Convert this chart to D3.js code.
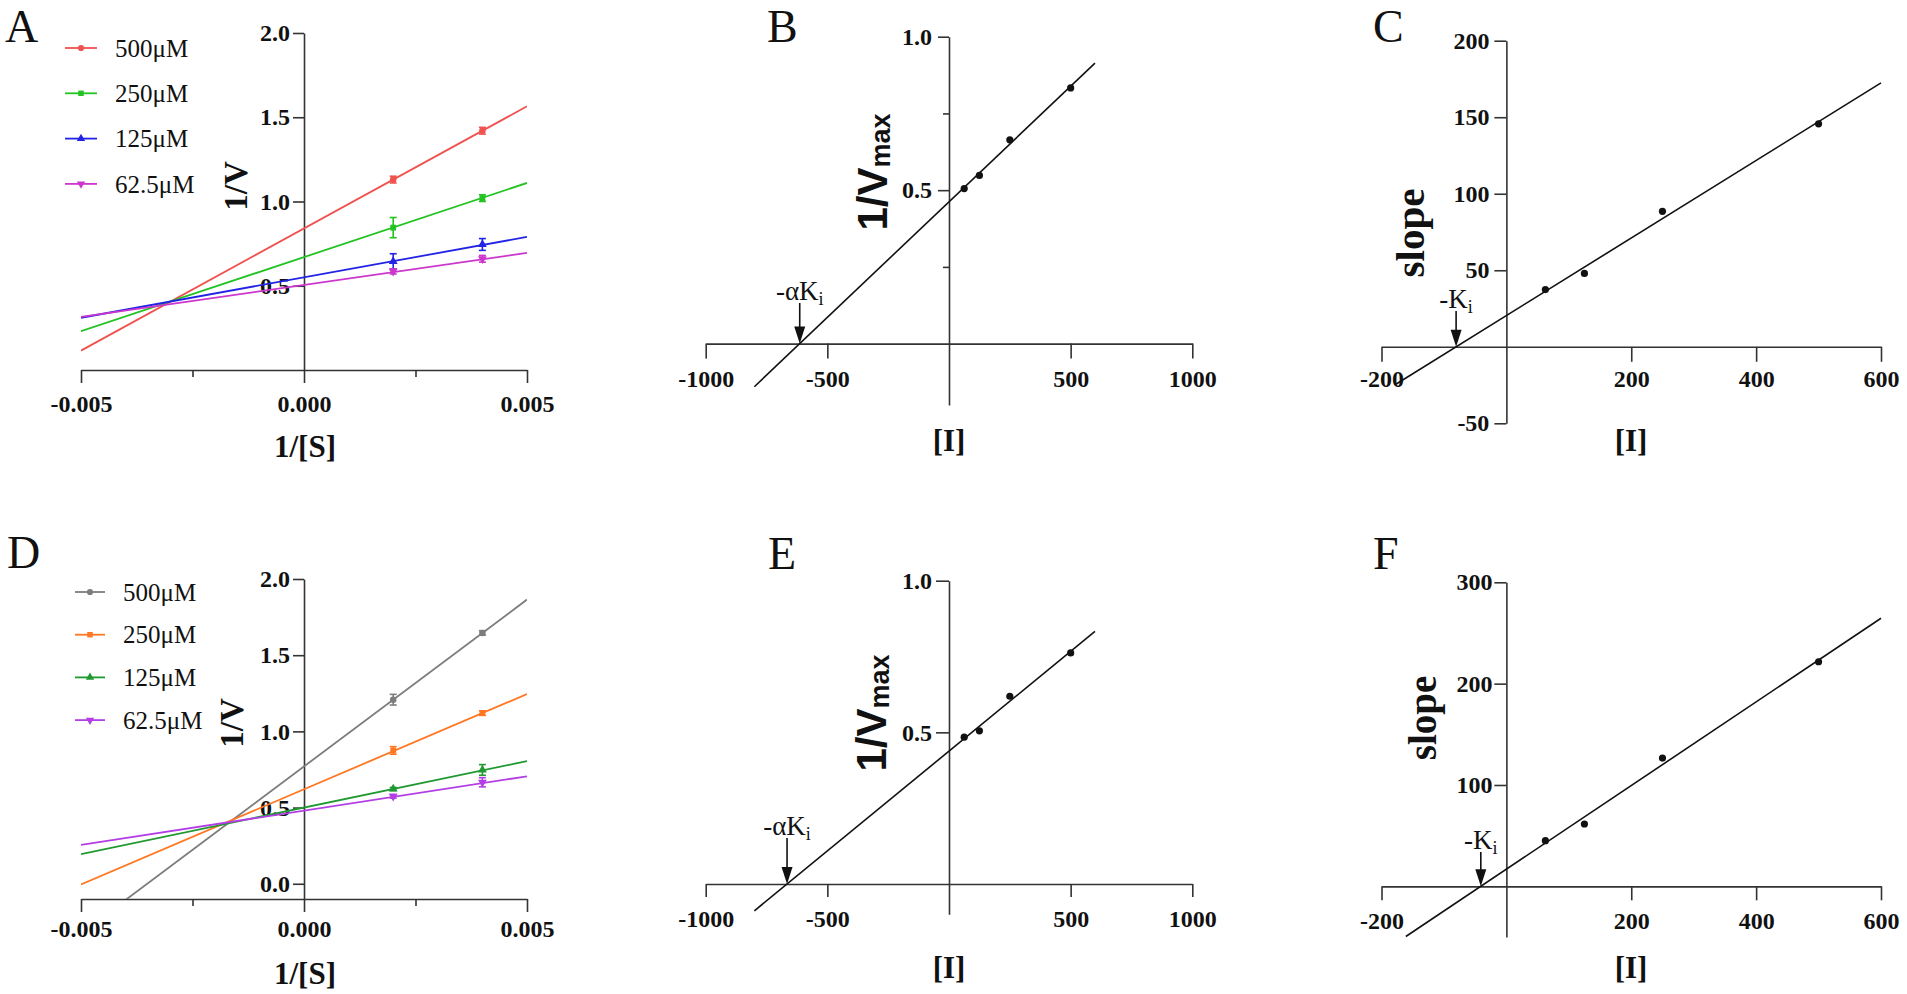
<!DOCTYPE html>
<html>
<head>
<meta charset="utf-8">
<title>Inhibition kinetics</title>
<script src="https://cdn.jsdelivr.net/npm/d3@7/dist/d3.min.js"></script>
<style>
  body { margin: 0; background: #fff; }
  svg text { font-family: "Liberation Serif", "Times New Roman", serif; fill: #111; }
  .axis path, .axis line { stroke: #333; stroke-width: 1.6; }
  .axis text { font-size: 24px; font-weight: bold; }
</style>
</head>
<body>
<svg id="fig" width="1907" height="994"></svg>
<script>
// Lineweaver-Burk plots (A, D) with their replots (B, C, E, F)

var concLabels = ["500μM", "250μM", "125μM", "62.5μM"];
var invS = [0.002, 0.004];

// panel A: 1/V at 1/[S] = 0.002, 0.004 (mean, error) and the fitted lines
var meanA = [[1.13, 1.42], [0.845, 1.02], [0.645, 0.745], [0.585, 0.66]];
var errA = [[0.02, 0.02], [0.06, 0.02], [0.045, 0.035], [0.015, 0.02]];
var slopeA = [145, 88, 48, 38];
var interceptA = [0.84, 0.67, 0.55, 0.505];
var colorsA = ["#f0524f", "#22c322", "#2323e6", "#cc36cc"];

// panel D
var meanD = [[1.208, 1.646], [0.875, 1.12], [0.622, 0.747], [0.574, 0.666]];
var errD = [[0.035, 0.015], [0.025, 0.015], [0.01, 0.035], [0.012, 0.03]];
var slopeD = [219, 125, 61, 45];
var interceptD = [0.77, 0.62, 0.50, 0.48];
var colorsD = ["#7d7d7d", "#ff7722", "#1f9930", "#b43ee6"];

// replots against inhibitor concentration
var inhibitor = [62.5, 125, 250, 500];
var vmaxB = [0.505, 0.548, 0.664, 0.833];
var slopeC = [37.4, 47.9, 88.5, 145.7];
var vmaxE = [0.484, 0.505, 0.619, 0.762];
var slopeF = [45, 61.5, 126.6, 221.6];
// fitted lines of B, C, E, F
var fitSlope = [0.000753, 0.2534, 0.000658, 0.4127];
var fitIntercept = [0.462, 20.4, 0.438, 16.9];
var fitStart = [-800, -177, -800, -161];
var fitEnd = [600, 600, 600, 600];

var svg = d3.select("#fig");
var shapes = [d3.symbolCircle, d3.symbolSquare, d3.symbolTriangle, d3.symbolTriangle];
var shapeRot = [0, 0, 0, 180];

function fixed(n) {
    return function (d) { return d.toFixed(n); };
}

function letter(txt, x, y) {
    svg.append("text").attr("x", x).attr("y", y)
            .style("font-size", "46px").text(txt);
}

function marker(g, i, x, y, color, size) {
    g.append("path")
            .attr("d", d3.symbol().type(shapes[i]).size(size)())
            .attr("transform", "translate(" + x + "," + y + ") rotate(" + shapeRot[i] + ")")
            .attr("fill", color);
}

function lbPanel(p) {
    var x = d3.scaleLinear().domain([-0.005, 0.005]).range([p.left, p.right]);
    var y = d3.scaleLinear().domain(p.yDomain).range([p.bottom, p.top]);
    var g = svg.append("g");

    var xAxis = g.append("g").attr("class", "axis")
            .attr("transform", "translate(0," + p.bottom + ")")
            .call(d3.axisBottom(x).tickValues([-0.005, 0, 0.005]).tickSize(13)
                    .tickSizeOuter(0).tickFormat(fixed(3)));
    xAxis.selectAll(".tick text").attr("y", p.xLabelOff).attr("dy", null);
    g.append("g").attr("class", "axis")
            .attr("transform", "translate(0," + p.bottom + ")")
            .call(d3.axisBottom(x).tickValues([-0.0025, 0.0025]).tickSize(7)
                    .tickSizeOuter(0).tickFormat(""))
            .select(".domain").remove();
    g.append("g").attr("class", "axis")
            .attr("transform", "translate(" + x(0) + ",0)")
            .call(d3.axisLeft(y).tickValues(p.yTicks).tickSize(11).tickPadding(3)
                    .tickSizeOuter(0).tickFormat(fixed(1)));

    g.append("text").attr("x", (p.left + p.right) / 2 + 1).attr("y", p.xTitleY)
            .attr("text-anchor", "middle")
            .style("font-size", "31px").style("font-weight", "bold").text("1/[S]");
    g.append("text").attr("transform", "translate(" + p.yTitleX + "," + p.yTitleY + ") rotate(-90)")
            .attr("text-anchor", "middle")
            .style("font-size", "33px").style("font-weight", "bold").text("1/V");

    var clipId = "clip" + p.id;
    svg.append("clipPath").attr("id", clipId).append("rect")
            .attr("x", p.left).attr("y", p.top - 40)
            .attr("width", p.right - p.left).attr("height", p.bottom - p.top + 40);

    var lines = g.append("g").attr("clip-path", "url(#" + clipId + ")");
    p.slopes.forEach(function (m, i) {
        var b = p.intercepts[i];
        lines.append("line")
                .attr("x1", x(-0.005)).attr("y1", y(b + m * -0.005))
                .attr("x2", x(0.005)).attr("y2", y(b + m * 0.005))
                .attr("stroke", p.colors[i]).attr("stroke-width", 1.8);
    });

    p.means.forEach(function (row, i) {
        row.forEach(function (v, j) {
            var cx = x(invS[j]);
            var e = p.errs[i][j];
            g.append("line").attr("x1", cx).attr("x2", cx)
                    .attr("y1", y(v - e)).attr("y2", y(v + e))
                    .attr("stroke", p.colors[i]).attr("stroke-width", 1.6);
            [v - e, v + e].forEach(function (w) {
                g.append("line").attr("x1", cx - 3.5).attr("x2", cx + 3.5)
                        .attr("y1", y(w)).attr("y2", y(w))
                        .attr("stroke", p.colors[i]).attr("stroke-width", 1.6);
            });
            marker(g, i, cx, y(v), p.colors[i], 34);
        });
    });

    // legend
    concLabels.forEach(function (lab, i) {
        var ly = p.legY + i * p.legStep;
        g.append("line").attr("x1", p.legX1).attr("x2", p.legX2)
                .attr("y1", ly).attr("y2", ly)
                .attr("stroke", p.colors[i]).attr("stroke-width", 1.8);
        marker(g, i, (p.legX1 + p.legX2) / 2, ly, p.colors[i], 30);
        g.append("text").attr("x", p.legText).attr("y", ly).attr("dy", "0.35em")
                .style("font-size", "25px").text(lab);
    });

    letter(p.id, p.letterX, p.letterY);
}

function replot(p) {
    var x = d3.scaleLinear().domain(p.xDomain).range([p.left, p.right]);
    var y = d3.scaleLinear().domain(p.yDomain).range([p.bottom, p.top]);
    var g = svg.append("g");
    var k = p.fit;

    var xAxis = g.append("g").attr("class", "axis")
            .attr("transform", "translate(0," + y(0) + ")")
            .call(d3.axisBottom(x).tickValues(p.xTicks).tickSize(p.xTickSize)
                    .tickSizeOuter(0).tickFormat(function (d) { return String(d); }));
    xAxis.selectAll(".tick text").attr("y", p.xLabelOff).attr("dy", null);

    g.append("g").attr("class", "axis")
            .attr("transform", "translate(" + x(0) + ",0)")
            .call(d3.axisLeft(y).tickValues(p.yTicks).tickSize(p.yTickSize).tickPadding(p.yPad)
                    .tickSizeOuter(0).tickFormat(fixed(p.yDigits)));
    if (p.yMinor) {
        g.append("g").attr("class", "axis")
                .attr("transform", "translate(" + x(0) + ",0)")
                .call(d3.axisLeft(y).tickValues(p.yMinor).tickSize(6).tickFormat(""))
                .select(".domain").remove();
    }

    // fitted line and points
    var m = fitSlope[k], b = fitIntercept[k];
    g.append("line")
            .attr("x1", x(fitStart[k])).attr("y1", y(b + m * fitStart[k]))
            .attr("x2", x(fitEnd[k])).attr("y2", y(b + m * fitEnd[k]))
            .attr("stroke", "#111").attr("stroke-width", 1.6);
    g.selectAll("circle.pt").data(p.values).enter().append("circle")
            .attr("cx", function (d, i) { return x(inhibitor[i]); })
            .attr("cy", function (d) { return y(d); })
            .attr("r", 3.6).attr("fill", "#111");

    // intercept arrow
    var ax = x(-b / m), y0 = y(0);
    g.append("line").attr("x1", ax).attr("x2", ax)
            .attr("y1", p.arrowTop).attr("y2", y0 - 14)
            .attr("stroke", "#111").attr("stroke-width", 1.6);
    g.append("path")
            .attr("d", "M" + (ax - 5.5) + "," + (y0 - 17) + "L" + (ax + 5.5) + "," + (y0 - 17) + "L" + ax + "," + y0 + "Z")
            .attr("fill", "#111");
    var ann = g.append("text").attr("x", ax).attr("y", p.arrowTop - 3)
            .attr("text-anchor", "middle").style("font-size", "27px").text(p.ann);
    ann.append("tspan").attr("dy", 5).style("font-size", "18px").text("i");

    // titles
    g.append("text").attr("x", p.xTitleX).attr("y", p.xTitleY)
            .attr("text-anchor", "middle")
            .style("font-size", "31px").style("font-weight", "bold").text("[I]");
    var yt = g.append("text")
            .attr("transform", "translate(" + p.yTitleX + "," + p.yTitleY + ") rotate(-90)")
            .attr("text-anchor", "middle").style("font-weight", "bold");
    if (p.yTitle === "vmax") {
        yt.style("font-family", "'Liberation Sans', Arial, sans-serif").style("font-size", "42px");
        yt.append("tspan").text("1/V");
        yt.append("tspan").attr("dy", 3).style("font-size", "27px").text("max");
    } else {
        yt.style("font-size", p.yTitleSize + "px").text("slope");
    }

    letter(p.id, p.letterX, p.letterY);
}

lbPanel({
    id: "A", left: 81, right: 527, top: 33, bottom: 370, yDomain: [0, 2],
    yTicks: [0.5, 1, 1.5, 2], xLabelOff: 42, xTitleY: 457, yTitleX: 247, yTitleY: 186,
    means: meanA, errs: errA, slopes: slopeA, intercepts: interceptA, colors: colorsA,
    legX1: 65, legX2: 97, legText: 115, legY: 48, legStep: 45.3, letterX: 5, letterY: 42
});

lbPanel({
    id: "D", left: 81, right: 527, top: 579, bottom: 899, yDomain: [-0.1, 2],
    yTicks: [0, 0.5, 1, 1.5, 2], xLabelOff: 38, xTitleY: 984, yTitleX: 243, yTitleY: 723,
    means: meanD, errs: errD, slopes: slopeD, intercepts: interceptD, colors: colorsD,
    legX1: 75, legX2: 105, legText: 123, legY: 592, legStep: 42.7, letterX: 7, letterY: 568
});

replot({
    id: "B", fit: 0, values: vmaxB, left: 705.7, right: 1192.3, top: 36.7, bottom: 405,
    xDomain: [-1000, 1000], yDomain: [-0.2, 1.0], xTicks: [-1000, -500, 500, 1000],
    xTickSize: 15, xLabelOff: 43, yTicks: [0.5, 1.0], yMinor: [0.25, 0.75],
    yTickSize: 11, yPad: 6, yDigits: 1, arrowTop: 303, ann: "-αK",
    xTitleX: 949, xTitleY: 451, yTitle: "vmax", yTitleX: 887, yTitleY: 172,
    letterX: 767, letterY: 42
});

replot({
    id: "C", fit: 1, values: slopeC, left: 1381.5, right: 1881, top: 40.7, bottom: 423.3,
    xDomain: [-200, 600], yDomain: [-50, 200], xTicks: [-200, 200, 400, 600],
    xTickSize: 15, xLabelOff: 40, yTicks: [-50, 50, 100, 150, 200],
    yTickSize: 12, yPad: 5, yDigits: 0, arrowTop: 311, ann: "-K",
    xTitleX: 1631, xTitleY: 451, yTitle: "slope", yTitleSize: 41, yTitleX: 1424, yTitleY: 233,
    letterX: 1373, letterY: 42
});

replot({
    id: "E", fit: 2, values: vmaxE, left: 705.7, right: 1192.3, top: 580.7, bottom: 914.3,
    xDomain: [-1000, 1000], yDomain: [-0.1, 1.0], xTicks: [-1000, -500, 500, 1000],
    xTickSize: 13, xLabelOff: 43, yTicks: [0.5, 1.0],
    yTickSize: 13, yPad: 4, yDigits: 1, arrowTop: 838, ann: "-αK",
    xTitleX: 949, xTitleY: 978, yTitle: "vmax", yTitleX: 886, yTitleY: 713,
    letterX: 768, letterY: 569
});

replot({
    id: "F", fit: 3, values: slopeF, left: 1381.5, right: 1881, top: 582.3, bottom: 937,
    xDomain: [-200, 600], yDomain: [-50, 300], xTicks: [-200, 200, 400, 600],
    xTickSize: 14, xLabelOff: 43, yTicks: [100, 200, 300],
    yTickSize: 12, yPad: 2, yDigits: 0, arrowTop: 852, ann: "-K",
    xTitleX: 1631, xTitleY: 978, yTitle: "slope", yTitleSize: 39, yTitleX: 1436, yTitleY: 718,
    letterX: 1373, letterY: 569
});
</script>
</body>
</html>
